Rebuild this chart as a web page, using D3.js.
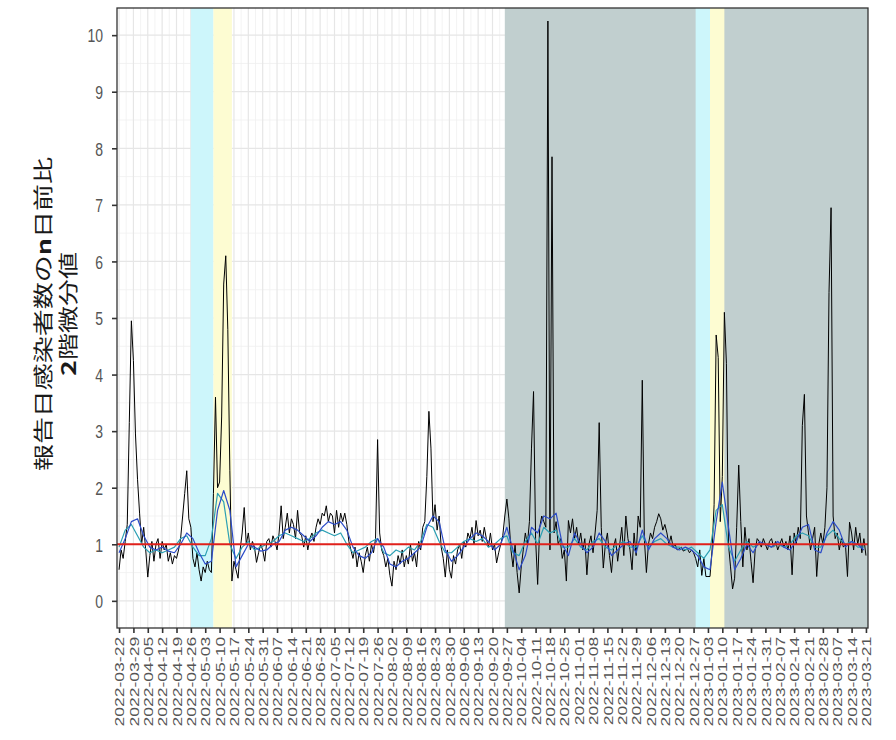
<!DOCTYPE html>
<html><head><meta charset="utf-8">
<script src="https://cdn.jsdelivr.net/npm/d3@7"></script>
<style>body{margin:0;background:#fff}</style>
</head><body>
<svg id="c" width="896" height="740"></svg>
<script>
// ---------------- data ----------------
const startDate = "2022-03-22";
const ratioDaily = [
0.55,0.9,0.75,1.05,1.35,3.15,4.95,4.25,2.95,2.15,
1.55,1.0,1.3,0.9,0.42,0.8,1.05,0.7,1.0,1.1,
0.75,1.05,0.9,1.0,0.7,0.85,0.65,0.8,0.75,0.9,
1.1,1.5,1.9,2.3,1.45,1.3,0.75,0.6,0.85,0.55,
0.35,0.6,0.5,0.7,0.55,0.5,1.9,3.6,2.0,2.1,
3.25,5.6,6.1,4.8,2.3,0.35,0.7,0.55,0.4,0.9,
1.2,1.65,1.0,1.2,0.9,1.05,0.95,0.68,0.85,1.0,
0.9,0.7,1.05,1.1,0.95,1.15,1.05,0.9,1.2,1.68,
1.1,1.3,1.55,1.2,1.45,1.35,1.1,1.6,1.2,1.15,
0.95,1.15,0.9,1.1,1.2,1.05,1.3,1.45,1.35,1.55,
1.5,1.68,1.4,1.55,1.5,1.2,1.6,1.3,1.55,1.4,
1.55,1.35,1.05,0.9,0.75,0.95,0.6,0.85,0.7,0.5,
0.8,0.95,0.7,1.0,0.85,1.1,2.85,1.2,0.9,0.8,
0.6,0.75,0.45,0.26,0.7,0.55,0.8,0.65,0.9,0.6,
0.8,0.65,1.0,0.7,0.85,0.6,1.05,0.9,1.3,1.4,
2.2,3.35,2.7,1.4,1.7,1.25,1.5,0.95,0.75,0.42,
0.9,0.55,0.4,0.8,0.65,0.9,1.0,0.75,1.05,0.95,
1.2,1.1,1.3,1.0,1.42,1.15,1.25,1.05,1.3,1.1,
0.95,1.2,0.9,1.0,0.67,0.85,1.0,1.15,1.5,1.8,
1.45,0.9,0.6,1.0,0.5,0.14,0.6,0.9,1.2,1.0,
1.4,2.7,3.7,1.1,0.29,1.3,1.5,1.4,1.3,10.25,
0.9,7.85,1.2,1.4,1.0,1.1,0.75,0.9,0.35,1.42,
1.2,1.45,1.1,1.3,1.0,1.2,0.9,1.1,0.46,1.0,
1.15,0.85,1.2,1.6,3.15,1.3,0.58,1.0,1.2,0.8,
0.5,0.95,1.1,0.7,1.0,1.3,0.8,1.5,1.1,0.9,
0.55,1.2,0.8,1.5,1.3,3.9,1.1,0.5,1.0,1.2,
1.1,1.3,1.4,1.54,1.45,1.25,1.35,1.2,1.0,1.15,
0.95,1.0,0.9,0.92,0.95,0.88,0.9,0.92,0.85,0.9,
0.85,0.75,0.6,0.9,0.45,0.75,0.43,0.43,0.43,0.9,
1.7,4.7,4.3,1.4,2.2,5.1,4.2,1.0,0.6,0.21,
0.4,1.3,2.4,1.4,0.6,1.3,0.9,1.1,0.7,0.32,
0.9,1.1,1.05,0.95,1.1,1.0,0.9,1.05,1.1,0.95,
1.05,0.9,1.0,1.1,0.95,1.05,0.9,1.15,0.46,1.2,
1.0,1.3,1.1,3.1,3.65,1.5,1.2,0.9,1.1,1.3,
0.43,1.0,1.2,1.0,1.3,2.0,5.45,6.95,1.5,1.1,
1.2,0.9,1.1,0.95,1.0,0.43,1.39,1.2,0.9,1.3,
1.0,1.2,0.85,1.1,0.8
];
const smoothStepDays = 3;
const smoothBlue = [
0.85,1.1,1.4,1.45,1.15,0.95,0.9,0.95,0.88,0.85,
1.0,1.2,1.1,0.85,0.65,0.7,1.6,1.95,1.6,0.6,
0.8,1.0,0.95,0.88,0.9,1.0,1.05,1.25,1.3,1.25,
1.15,1.05,1.15,1.3,1.4,1.35,1.4,1.25,0.95,0.8,
0.75,0.85,1.1,0.95,0.65,0.6,0.7,0.75,0.85,0.95,
1.3,1.5,1.4,0.9,0.7,0.8,0.95,1.1,1.2,1.15,
1.05,0.9,1.0,1.3,0.9,0.55,0.8,1.3,1.2,1.5,
1.45,1.55,1.0,0.8,1.2,1.0,0.85,0.95,1.2,1.05,
0.8,0.9,1.0,1.05,0.85,1.25,0.9,1.1,1.2,1.1,
0.95,0.9,0.95,0.9,0.8,0.6,0.55,1.4,2.1,1.3,
0.55,0.75,1.0,0.85,1.05,1.0,0.95,1.05,0.95,0.9,
1.05,1.3,1.35,0.9,0.85,1.2,1.4,1.25,0.95,1.05,
1.0,0.9
];
const smoothTeal = [
0.95,1.25,1.35,1.15,0.95,0.85,0.9,0.85,0.9,0.95,
1.1,1.15,0.95,0.8,0.8,1.1,1.9,1.75,1.0,0.75,
0.95,1.05,0.9,0.95,1.0,1.05,1.15,1.2,1.15,1.1,
1.05,1.1,1.2,1.25,1.2,1.15,1.2,1.0,0.85,0.9,
0.95,1.05,1.1,0.85,0.8,0.9,0.85,0.95,0.9,1.05,
1.35,1.3,1.05,0.85,0.85,0.95,1.05,1.1,1.05,1.1,
0.95,1.0,1.1,1.15,0.85,0.8,1.05,1.2,1.0,1.3,
1.2,1.25,0.95,0.95,1.1,0.95,0.9,1.05,1.1,0.95,
0.9,1.0,1.05,0.95,0.95,1.15,0.95,1.05,1.1,1.0,
0.95,0.95,0.9,0.95,0.85,0.75,0.9,1.6,1.7,0.95,
0.7,0.9,1.05,0.95,1.0,1.0,0.95,1.0,0.95,1.0,
1.15,1.2,1.15,0.95,0.95,1.15,1.25,1.1,1.0,1.05,
0.95,0.95
];
const referenceLevel = 1;
const tickLabels = [
"2022-03-22","2022-03-29","2022-04-05","2022-04-12","2022-04-19","2022-04-26",
"2022-05-03","2022-05-10","2022-05-17","2022-05-24","2022-05-31","2022-06-07",
"2022-06-14","2022-06-21","2022-06-28","2022-07-05","2022-07-12","2022-07-19",
"2022-07-26","2022-08-02","2022-08-09","2022-08-16","2022-08-23","2022-08-30",
"2022-09-06","2022-09-13","2022-09-20","2022-09-27","2022-10-04","2022-10-11",
"2022-10-18","2022-10-25","2022-11-01","2022-11-08","2022-11-15","2022-11-22",
"2022-11-29","2022-12-06","2022-12-13","2022-12-20","2022-12-27","2023-01-03",
"2023-01-10","2023-01-17","2023-01-24","2023-01-31","2023-02-07","2023-02-14",
"2023-02-21","2023-02-28","2023-03-07","2023-03-14","2023-03-21"
];
const yTicks = [0,1,2,3,4,5,6,7,8,9,10];
const greyPeriod = ["2022-09-26","2023-03-22"];
const cyanPeriods = [["2022-04-26","2022-05-07"],["2022-12-28","2023-01-04"]];
const yellowPeriods = [["2022-05-07","2022-05-16"],["2023-01-04","2023-01-11"]];
const xDomain = ["2022-03-21","2023-03-22"];
const yDomain = [-0.48, 10.48];
const titleLine1 = ["報告日感染者数の","n","日前比"];
const titleLine2 = ["2","階微分値"];

// ---------------- drawing ----------------
const parse = d3.utcParse("%Y-%m-%d");
const L=117, R=868, T=8, B=628;
const STR = 1.35; // vertical stretch of the original rendering
const x = d3.scaleUtc().domain(xDomain.map(parse)).range([L,R]);
const y = d3.scaleLinear().domain(yDomain).range([B,T]);
const svg = d3.select("#c");
const DAY = 864e5;
const t0 = parse(startDate);

svg.append("rect").attr("x",L).attr("y",T).attr("width",R-L).attr("height",B-T).attr("fill","#fff");

// grid
const tickDates = tickLabels.map(parse);
const minorX = tickDates.slice(0,-1).map(d=>new Date(+d+3.5*DAY));
const g = svg.append("g");
g.selectAll(".mx").data(minorX).join("line")
 .attr("x1",d=>x(d)).attr("x2",d=>x(d)).attr("y1",T).attr("y2",B)
 .attr("stroke","#f0f0f0").attr("stroke-width",0.8);
const minorY = yTicks.map(v=>v+0.5).filter(v=>v<yDomain[1]).concat([-0.5].filter(v=>v>yDomain[0]));
g.selectAll(".my").data(minorY).join("line")
 .attr("x1",L).attr("x2",R).attr("y1",d=>y(d)).attr("y2",d=>y(d))
 .attr("stroke","#f0f0f0").attr("stroke-width",0.8);
g.selectAll(".Mx").data(tickDates).join("line")
 .attr("x1",d=>x(d)).attr("x2",d=>x(d)).attr("y1",T).attr("y2",B)
 .attr("stroke","#e6e6e6").attr("stroke-width",1.2);
g.selectAll(".My").data(yTicks).join("line")
 .attr("x1",L).attr("x2",R).attr("y1",d=>y(d)).attr("y2",d=>y(d))
 .attr("stroke","#e6e6e6").attr("stroke-width",1.2);

// shaded periods
svg.append("rect").attr("x",x(parse(greyPeriod[0]))).attr("y",T)
 .attr("width",x(parse(greyPeriod[1]))-x(parse(greyPeriod[0]))).attr("height",B-T)
 .attr("fill","#c1cfcf");
svg.selectAll(".cy").data(cyanPeriods).join("rect")
 .attr("x",d=>x(parse(d[0]))).attr("y",T)
 .attr("width",d=>x(parse(d[1]))-x(parse(d[0]))).attr("height",B-T).attr("fill","#cdf6fb");
svg.selectAll(".ye").data(yellowPeriods).join("rect")
 .attr("x",d=>x(parse(d[0]))).attr("y",T)
 .attr("width",d=>x(parse(d[1]))-x(parse(d[0]))).attr("height",B-T).attr("fill","#fdfcd2");

// lines
const clip = svg.append("clipPath").attr("id","pc").append("rect")
 .attr("x",L).attr("y",T).attr("width",R-L).attr("height",B-T);
const lines = svg.append("g").attr("clip-path","url(#pc)");
const line = d3.line().x(d=>x(d.date)).y(d=>y(d.v));
const blackPts = ratioDaily.map((v,i)=>({date:new Date(+t0+i*DAY),v}));
const bluePts = smoothBlue.map((v,i)=>({date:new Date(+t0+i*smoothStepDays*DAY),v}));
const tealPts = smoothTeal.map((v,i)=>({date:new Date(+t0+i*smoothStepDays*DAY),v}));
lines.append("path").datum(blackPts).attr("d",line).attr("fill","none")
 .attr("stroke","#000").attr("stroke-width",1).attr("stroke-linejoin","round");
lines.append("path").datum(tealPts).attr("d",line).attr("fill","none")
 .attr("stroke","#2b9fb3").attr("stroke-width",1.2).attr("stroke-linejoin","round");
lines.append("path").datum(bluePts).attr("d",line).attr("fill","none")
 .attr("stroke","#2c4cc8").attr("stroke-width",1.2).attr("stroke-linejoin","round");
lines.append("line").attr("x1",L).attr("x2",R)
 .attr("y1",y(referenceLevel)).attr("y2",y(referenceLevel))
 .attr("stroke","#e0201b").attr("stroke-width",2);

// border
svg.append("rect").attr("x",L).attr("y",T).attr("width",R-L).attr("height",B-T)
 .attr("fill","none").attr("stroke","#333").attr("stroke-width",1.3);

// axes
const xa = svg.append("g").attr("transform",`translate(0,${B})`)
 .call(d3.axisBottom(x).tickValues(tickDates).tickFormat((d,i)=>tickLabels[i]).tickSize(5).tickSizeOuter(0));
xa.select(".domain").remove();
xa.selectAll(".tick line").attr("stroke","#333").attr("stroke-width",1.6);
xa.selectAll(".tick text")
 .attr("x",-6.5).attr("y",0).attr("dy","0.36em")
 .attr("transform",`rotate(-90) scale(${STR},1)`)
 .style("text-anchor","end")
 .attr("fill","#555").style("font-family","'Liberation Sans',Arial,sans-serif").style("font-size","13px");

const ya = svg.append("g").attr("transform",`translate(${L},0)`)
 .call(d3.axisLeft(y).tickValues(yTicks).tickSize(5).tickSizeOuter(0));
ya.select(".domain").remove();
ya.selectAll(".tick line").attr("stroke","#333").attr("stroke-width",1.6);
ya.selectAll(".tick text")
 .attr("x",0).attr("dy","0.36em")
 .attr("transform",`translate(-14,0) scale(1,${STR})`)
 .style("text-anchor","end")
 .attr("fill","#555").style("font-family","'Liberation Sans',Arial,sans-serif").style("font-size","14px");

// y title
function title(parts, cx){
  const t = svg.append("text")
   .attr("transform",`translate(${cx},314) rotate(-90) scale(${STR},1)`)
   .attr("dy","0.36em").style("text-anchor","middle")
   .style("font-family","'Noto Sans CJK JP',sans-serif").style("font-size","20px").attr("fill","#1a1a1a");
  parts.forEach(p=>{
    t.append("tspan").text(p).style("font-weight", /^[n2]$/.test(p) ? "bold" : "normal");
  });
}
title(titleLine1, 44);
title(titleLine2, 69);
</script>
</body></html>
